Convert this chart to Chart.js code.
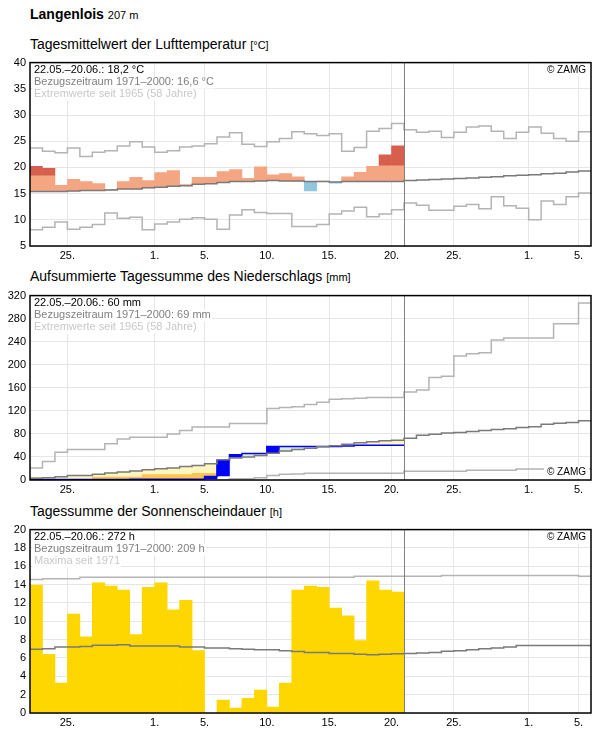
<!DOCTYPE html>
<html><head><meta charset="utf-8">
<script src="https://cdn.jsdelivr.net/npm/chart.js@4"></script>
<style>
body{margin:0;background:#fff;font-family:'Liberation Sans',Arial,sans-serif;}
.t{position:absolute;left:30px;color:#000;white-space:nowrap}
.u{font-size:11px}
.c{position:absolute;left:0;width:596px}
</style></head><body>
<div class="t" style="top:6px;font-size:14px;font-weight:bold">Langenlois <span style="font-weight:normal;font-size:11px">207 m</span></div>
<div class="t" style="top:36px;font-size:14px">Tagesmittelwert der Lufttemperatur <span class="u">[°C]</span></div>
<div class="t" style="top:268px;font-size:14px">Aufsummierte Tagessumme des Niederschlags <span class="u">[mm]</span></div>
<div class="t" style="top:503px;font-size:14px">Tagessumme der Sonnenscheindauer <span class="u">[h]</span></div>
<div class="c" style="top:52px;height:214px"><canvas id="c1"></canvas></div>
<div class="c" style="top:285px;height:215px"><canvas id="c2"></canvas></div>
<div class="c" style="top:519px;height:214px"><canvas id="c3"></canvas></div>
<script>
// x axis: day index 0 = 22.05.
const xTickPos = [3,10,14,19,24,29,34,40,44];
const xTickLabels = ["25.","1.","5.","10.","15.","20.","25.","1.","5."];
const nDays = 45, obsDays = 30;

const tempObs = [20.2,19.8,16.6,17.7,17.3,16.9,15.8,17.3,18.1,17.5,19.0,19.4,16.7,18.1,18.1,19.2,19.6,17.9,20.1,18.6,18.8,18.2,15.5,17.4,17.0,18.2,19.05,20.2,22.4,24.1];
const tempClim = [15.4,15.4,15.4,15.5,15.6,15.6,15.7,15.9,15.9,16.1,16.2,16.4,16.5,16.8,16.9,17.1,17.3,17.3,17.4,17.5,17.4,17.4,17.3,17.3,17.2,17.3,17.3,17.3,17.3,17.3,17.5,17.6,17.7,17.8,17.9,18.0,18.1,18.2,18.4,18.5,18.6,18.8,18.9,19.1,19.3];
const tempMax = [23.7,23.1,22.8,23.7,22.1,22.9,23.2,24.1,24.9,23.9,22.9,23.2,23.9,24.1,24.5,25.8,26.6,24.4,24.0,24.9,25.5,26.8,26.4,26.1,26.4,23.1,23.8,26.9,27.4,28.4,27.2,26.7,26.9,25.7,26.7,27.7,27.9,26.9,25.5,26.7,27.7,26.5,25.5,25.0,26.8];
const tempMin = [8.1,8.6,9.6,8.2,8.6,9.1,11.3,10.3,10.5,8.1,9.2,9.6,10.1,10.4,10.1,8.2,10.9,11.9,11.4,11.2,11.2,8.7,8.7,9.1,11.1,11.7,12.4,10.6,11.1,11.9,13.2,12.8,11.8,11.8,12.6,12.9,12.1,14.4,12.7,12.2,10.0,13.6,12.9,14.4,15.1];
const tempRedOffset = 3;

const precObs = [1,1,1,1,1,1,1,1,1.5,1.5,1.5,1.5,1.5,1.5,6,34,44,46,46,58,58,58,58,58,58,59,60.5,60.5,60.5,60.5];
const precClim = [3,4,5.7,8,8,10,12,14,15.5,18,19.5,21,23.5,25,28,35,38.5,40,42.5,46.5,50.5,53,55,57.5,59.5,62,64.5,66.5,68,69,72.6,77.7,79.4,81.7,82.3,84,85.7,87.5,89,91,92.6,96.6,98.3,100,103];
const precLow = [4,1,1,1,1,5.2,5.2,5.2,5.2,9.2,9.2,9.2,9.2,11.5,11.5];
const precMax = [21,32,48,53,53,53,63,71,74,74,74,80,86,92,92,92,98,98,98,124,126,127,131,135,140,141,142,143,143,143,152.6,156,178,180,215,219,221,243,246.6,246.6,246.6,246.6,271,271,307];
const precMin = [0,0,0,0,0,0,0,0,0,0,0,0,0,0,0,0,2,2,4,8,10,10.5,11.5,11.5,11.5,11.5,11.5,11.5,11.5,11.5,15.4,15.4,15.4,15.4,15.4,17,17,17,17,18.9,18.9,18.9,18.9,18.9,18.9];

const sunObs = [13.95,6.4,3.25,10.8,8.3,14.2,13.85,13.4,8.55,13.7,14.2,11.25,12.3,6.8,0,1.4,0.55,1.6,2.5,0.65,3.25,13.4,13.85,13.7,11.45,10.6,7.9,14.4,13.4,13.2];
const sunClim = [6.95,7.0,7.2,7.2,7.25,7.4,7.4,7.45,7.3,7.3,7.3,7.3,7.2,7.2,7.1,7.1,7.0,6.95,6.9,6.9,6.8,6.7,6.6,6.6,6.5,6.5,6.4,6.35,6.4,6.45,6.5,6.55,6.6,6.74,6.8,6.9,7.0,7.1,7.2,7.35,7.35,7.35,7.35,7.35,7.35];
const sunMax = [14.55,14.65,14.65,14.65,14.8,14.8,14.8,14.8,14.8,14.8,14.8,14.8,14.8,14.8,14.8,14.8,14.8,14.8,14.8,14.8,14.8,14.8,14.8,14.8,14.8,14.8,14.9,14.9,14.9,14.9,14.9,14.9,14.9,15.0,15.0,15.0,15.0,15.0,15.0,15.0,15.0,15.0,15.0,15.0,14.9];

const FONT = "'Liberation Sans', Arial, sans-serif";
Chart.defaults.font.family = FONT;
Chart.defaults.animation = false;

function step(arr){ return arr.map((v,i)=>({x:i,y:v})).concat([{x:arr.length,y:arr[arr.length-1]}]); }
function line(arr,color,w,order){ return {type:'line',data:step(arr),stepped:true,borderColor:color,borderWidth:w,pointRadius:0,fill:false,order:order||0}; }
function bars(arr,color){ return {type:'bar',data:arr.map((r,i)=>({x:i+0.5,y:r})).filter(d=>d.y),backgroundColor:color,borderWidth:0,barPercentage:1,categoryPercentage:1,grouped:false,order:10}; }

function makeChart(id,datasets,ymin,ymax,ystep,texts,zamgBottom){
  const plug = {
    id:'deco',
    afterDatasetsDraw(ch){
      const ctx=ch.ctx, a=ch.chartArea, x=ch.scales.x;
      ctx.save();
      const vx = Math.round(x.getPixelForValue(obsDays))+0.5;
      ctx.strokeStyle='#808080';ctx.lineWidth=1;
      ctx.beginPath();ctx.moveTo(vx,a.top);ctx.lineTo(vx,a.bottom);ctx.stroke();
      ctx.font='11px '+FONT;ctx.textBaseline='top';
      texts.forEach((t,k)=>{
        const w=ctx.measureText(t[0]).width;
        ctx.fillStyle='#fff';ctx.fillRect(a.left+2,a.top+2+k*12,w+3,12);
        ctx.fillStyle=t[1];ctx.fillText(t[0],a.left+4,a.top+2+k*12);
      });
      ctx.font='10px '+FONT;
      const zt='© ZAMG', zw=ctx.measureText(zt).width;
      const zy = zamgBottom ? a.bottom-13 : a.top+3;
      ctx.fillStyle='#fff';ctx.fillRect(a.right-zw-8,zy-1,zw+6,12);
      ctx.fillStyle='#000';ctx.fillText(zt,a.right-zw-5,zy);
      ctx.strokeStyle='#000';ctx.lineWidth=1.5;
      ctx.strokeRect(a.left,a.top,a.right-a.left,a.bottom-a.top);
      ctx.restore();
    }
  };
  return new Chart(document.getElementById(id),{
    type:'bar',
    data:{datasets},
    options:{
      responsive:true,maintainAspectRatio:false,
      layout:{padding:{top:3,right:5,left:0,bottom:0}},
      plugins:{legend:{display:false},tooltip:{enabled:false}},
      scales:{
        x:{type:'linear',min:0,max:nDays,offset:false,
          afterBuildTicks(s){s.ticks=xTickPos.map(v=>({value:v}));},
          afterFit(s){s.height=20;},
          ticks:{autoSkip:false,maxRotation:0,color:'#000',font:{size:11},padding:3,
            callback:(v)=>xTickLabels[xTickPos.indexOf(v)]},
          grid:{color:'#e6e6e6',drawTicks:false,offset:false},border:{display:false}},
        y:{min:ymin,max:ymax,
          afterBuildTicks(s){const t=[];for(let v=ymin;v<=ymax;v+=ystep)t.push({value:v});s.ticks=t;},
          afterFit(s){s.width=30;},
          ticks:{color:'#000',font:{size:11},padding:4},
          grid:{color:'#e6e6e6',drawTicks:false},border:{display:false}}
      }
    },
    plugins:[plug]
  });
}

// temperature
const tLight = tempObs.map((v,i)=> v>tempClim[i] ? [tempClim[i], Math.min(v,tempClim[i]+tempRedOffset)] : null);
const tRed = tempObs.map((v,i)=> v>tempClim[i]+tempRedOffset ? [tempClim[i]+tempRedOffset, v] : null);
const tBlue = tempObs.map((v,i)=> v<tempClim[i] ? [v, tempClim[i]] : null);
makeChart('c1',[
  line(tempClim,'#7a7a7a',1.5,0),
  line(tempMax,'#b4b4b4',1.5,1),
  line(tempMin,'#b4b4b4',1.5,1),
  bars(tLight,'#f4a582'),bars(tRed,'#d6604d'),bars(tBlue,'#92c5de')
],5,40,5,[["22.05.–20.06.: 18,2 °C",'#000'],["Bezugszeitraum 1971–2000: 16,6 °C",'#808080'],["Extremwerte seit 1965 (58 Jahre)",'#c8c8c8']],false);

// precipitation
const pYellow = precObs.map((v,i)=> v<precClim[i] ? [v,precClim[i]] : null);
const pGreen = precObs.map((v,i)=> v>precClim[i] ? [precClim[i],v] : null);
const pOrange = precLow.map((l,i)=> precObs[i]<l ? [precObs[i],l] : null);
const pBlue = precObs.map((v,i)=>{const p=i?precObs[i-1]:0; const lo=Math.max(p,Math.min(precClim[i],v)-8); return v-p>2 ? [i===15?7:(v>precClim[i]?Math.max(p,precClim[i]):p),v] : null;});
makeChart('c2',[
  line(precClim,'#7a7a7a',1.5,0),
  line(precObs,'#0000ff',1.5,1),
  line(precMax,'#b4b4b4',1.5,2),
  line(precMin,'#b4b4b4',1.5,2),
  bars(pBlue,'#0000ff'),bars(pOrange,'#fec44f'),bars(pYellow,'#fff5bf'),bars(pGreen,'#d9ecd4')
],0,320,40,[["22.05.–20.06.: 60 mm",'#000'],["Bezugszeitraum 1971–2000: 69 mm",'#808080'],["Extremwerte seit 1965 (58 Jahre)",'#c8c8c8']],true);

// sunshine
makeChart('c3',[
  line(sunClim,'#7a7a7a',1.5,0),
  line(sunMax,'#b4b4b4',1.5,1),
  bars(sunObs.map(v=>v>0?[0,v]:null),'#ffd700')
],0,20,2,[["22.05.–20.06.: 272 h",'#000'],["Bezugszeitraum 1971–2000: 209 h",'#808080'],["Maxima seit 1971",'#c8c8c8']],false);
</script>
</body></html>
